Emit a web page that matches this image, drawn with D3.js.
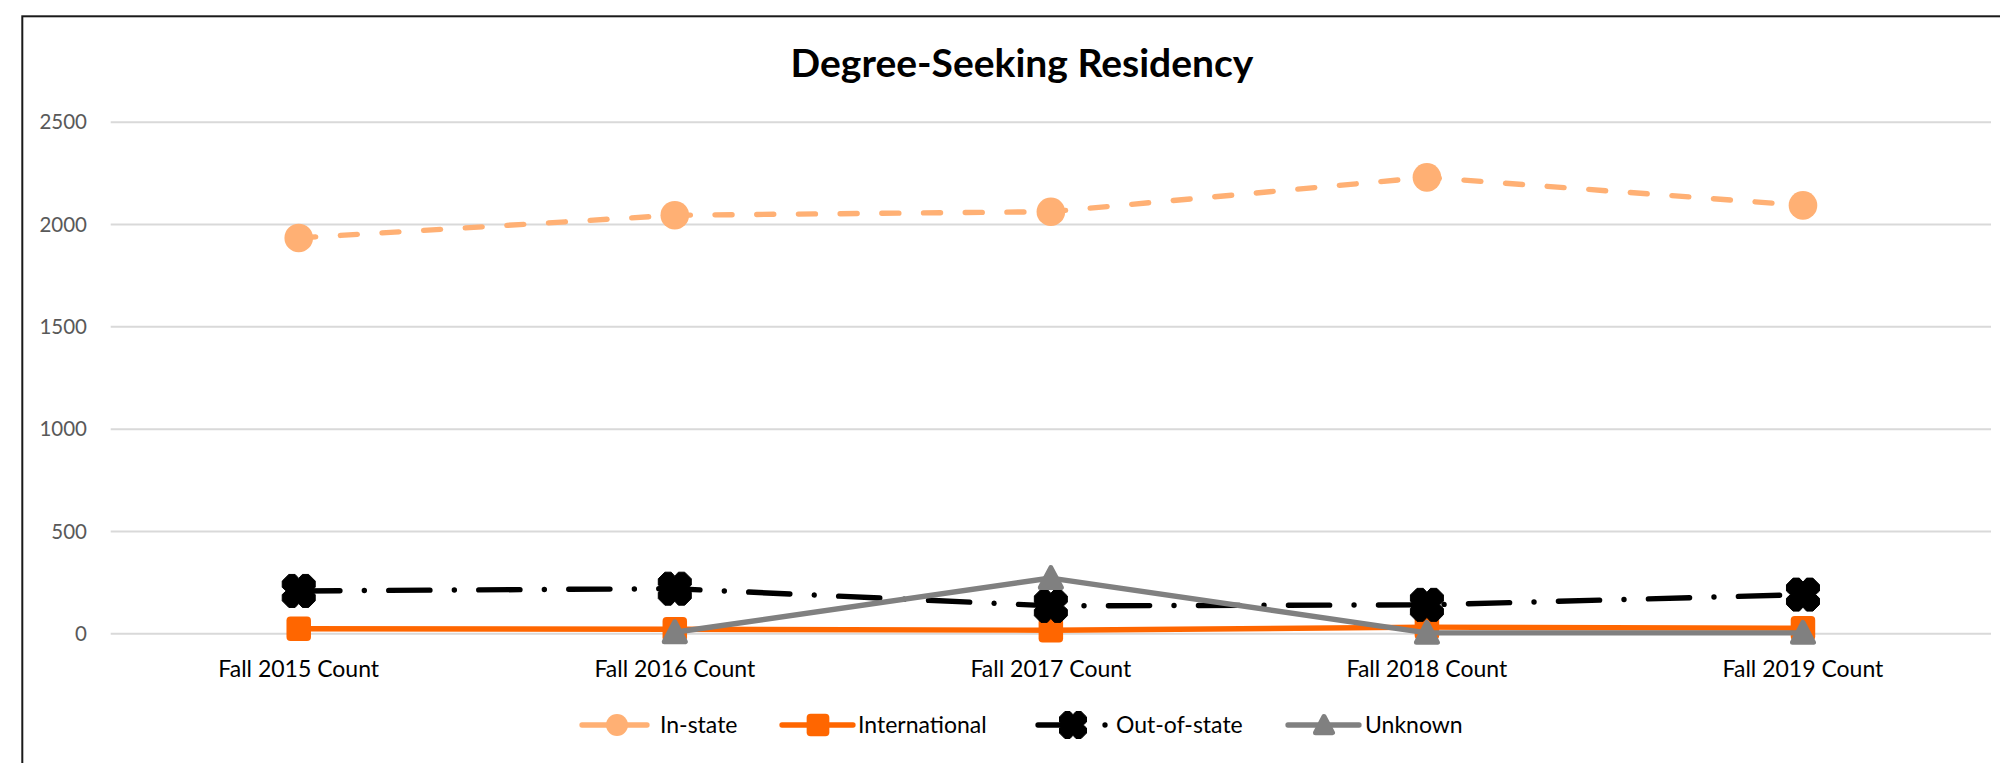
<!DOCTYPE html>
<html><head><meta charset="utf-8">
<script src="https://cdn.jsdelivr.net/npm/d3@7"></script>
<style>
body{margin:0;background:#fff;}
svg{display:block;}
text{font-family:Lato,"Open Sans",sans-serif;}
</style>
</head><body>
<svg id="chart" width="2000" height="763"></svg>
<script>
// ---- data ----
const categories = ["Fall 2015 Count","Fall 2016 Count","Fall 2017 Count","Fall 2018 Count","Fall 2019 Count"];
const inState = [1932, 2043, 2060, 2228, 2091];
const international = [22, 20, 15, 30, 25];
const outOfState = [207, 218, 134, 139, 189];
const unknown = [null, 5, 270, 2, 2];
const yTicks = [0, 500, 1000, 1500, 2000, 2500];
const seriesNames = ["In-state", "International", "Out-of-state", "Unknown"];
const titleText = "Degree-Seeking Residency";

// ---- layout ----
const plot = {left: 110.7, right: 1991, top: 121.7, bottom: 633.3};
const svg = d3.select("#chart");

// chart border
svg.append("rect").attr("x", 22.3).attr("y", 16.3).attr("width", 2100).attr("height", 900)
  .attr("fill", "#fff").attr("stroke", "#1a1a1a").attr("stroke-width", 2);

const x = d3.scaleBand().domain(categories).range([plot.left, plot.right]).paddingInner(0).paddingOuter(0);
const cx = c => x(c) + x.bandwidth() / 2;
const y = d3.scaleLinear().domain([0, 2500]).range([plot.bottom, plot.top]);

// title
svg.append("text").attr("x", 1022).attr("y", 76.7).attr("text-anchor", "middle")
  .attr("font-size", 39).attr("font-weight", 700).attr("fill", "#000").text(titleText);

// y axis with gridlines
const yAxis = svg.append("g").attr("transform", `translate(${plot.left},0)`)
  .call(d3.axisLeft(y).tickValues(yTicks).tickSize(-(plot.right - plot.left)).tickPadding(23.7).tickFormat(d3.format("d")));
yAxis.select(".domain").remove();
yAxis.selectAll(".tick line").attr("stroke", "#d9d9d9").attr("stroke-width", 2);
yAxis.selectAll(".tick text").attr("font-size", 20.5).attr("fill", "#595959")
  .attr("font-family", "Lato, sans-serif").attr("dy", "0.35em");

// x axis labels
const xAxis = svg.append("g").attr("transform", `translate(0,${plot.bottom})`)
  .call(d3.axisBottom(x).tickSize(0).tickPadding(0));
xAxis.select(".domain").remove();
xAxis.selectAll(".tick text").attr("font-size", 23).attr("fill", "#000")
  .attr("font-family", "Lato, sans-serif").attr("dy", null).attr("y", 44);

// ---- marker shapes ----
function xPath(h) {
  const c = h * 0.40, n = h * 0.22, d = h * 0.24;
  const q = [[0, -h + d], [n, -h], [h - c, -h], [h, -h + c], [h, -n], [h - d, 0],
             [h, n], [h, h - c], [h - c, h], [n, h], [0, h - d], [-n, h], [-(h - c), h],
             [-h, h - c], [-h, n], [-(h - d), 0], [-h, -n], [-h, -(h - c)], [-(h - c), -h], [-n, -h]];
  return "M" + q.map(p => p.join(",")).join("L") + "Z";
}
function triPath(h) {
  return `M0,${-h}L${h},${h * 0.9}L${-h},${h * 0.9}Z`;
}

const series = [
  {name: seriesNames[0], values: inState, color: "#FFB074", dash: "17 24.7", marker: "circle"},
  {name: seriesNames[1], values: international, color: "#FF6600", dash: null, marker: "square"},
  {name: seriesNames[2], values: outOfState, color: "#000000", dash: "41.2 24.4 0.01 24.4", marker: "x"},
  {name: seriesNames[3], values: unknown, color: "#808080", dash: null, marker: "triangle"}
];

function drawMarker(g, type, color, big) {
  if (type === "circle") {
    g.append("circle").attr("r", big ? 14.3 : 11).attr("fill", color);
  } else if (type === "square") {
    const s = big ? 24.5 : 22.7;
    g.append("rect").attr("x", -s / 2).attr("y", -s / 2).attr("width", s).attr("height", s)
      .attr("rx", 4).attr("fill", color);
  } else if (type === "x") {
    g.append("path").attr("d", xPath(big ? 16.5 : 13.5)).attr("fill", color)
      .attr("stroke", color).attr("stroke-width", 1);
  } else if (type === "triangle") {
    g.append("path").attr("d", triPath(big ? 10.5 : 8.5)).attr("fill", color)
      .attr("stroke", color).attr("stroke-width", 5).attr("stroke-linejoin", "round");
  }
}

const lineGen = d3.line().defined(d => d.v !== null).x(d => cx(d.c)).y(d => y(d.v));

series.forEach(s => {
  const pts = categories.map((c, i) => ({c: c, v: s.values[i]}));
  const g = svg.append("g");
  g.append("path").datum(pts).attr("d", lineGen).attr("fill", "none")
    .attr("stroke", s.color).attr("stroke-width", 5.4).attr("stroke-linecap", "round")
    .attr("stroke-linejoin", "round").attr("stroke-dasharray", s.dash);
  pts.filter(d => d.v !== null).forEach(d => {
    const mg = g.append("g").attr("transform", `translate(${cx(d.c)},${y(d.v)})`);
    drawMarker(mg, s.marker, s.color, true);
  });
});

// ---- legend ----
const legendY = 725;
const legendItems = [
  {x0: 582, x1: 647, mx: 617, tx: 660},
  {x0: 782, x1: 853, mx: 818, tx: 858},
  {x0: 1038, x1: 1106, mx: 1073, tx: 1116},
  {x0: 1288, x1: 1359, mx: 1324, tx: 1365}
];
series.forEach((s, i) => {
  const it = legendItems[i];
  const g = svg.append("g");
  g.append("line").attr("x1", it.x0).attr("x2", it.x1).attr("y1", legendY).attr("y2", legendY)
    .attr("stroke", s.color).attr("stroke-width", 5.3).attr("stroke-linecap", "round")
    .attr("stroke-dasharray", s.marker === "x" ? "30 37 0.01 30" : null);
  const mg = g.append("g").attr("transform", `translate(${it.mx},${legendY})`);
  drawMarker(mg, s.marker, s.color, false);
  g.append("text").attr("x", it.tx).attr("y", legendY + 8.3).attr("font-size", 23)
    .attr("fill", "#000").text(s.name);
});
</script>
</body></html>
